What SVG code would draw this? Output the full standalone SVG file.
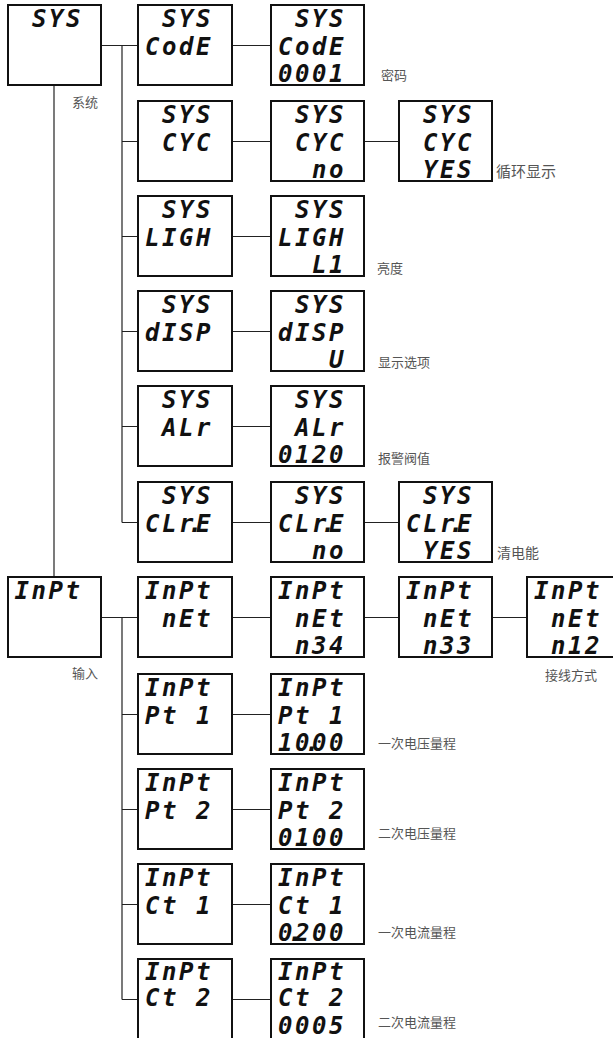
<svg xmlns="http://www.w3.org/2000/svg" width="613" height="1038" viewBox="0 0 613 1038">
<style>
.box{fill:#fff;stroke:#111;stroke-width:2}
.seg{font-family:"DejaVu Sans Mono","Liberation Mono",monospace;font-weight:bold;font-style:italic;font-size:24px;letter-spacing:2.55px;fill:#111;white-space:pre}
.lbl{font-family:"Noto Sans CJK SC","Noto Sans",sans-serif;font-size:13px;fill:#555}
.con{fill:none;stroke:#222;stroke-width:1.2}
</style>
<rect width="613" height="1038" fill="#fff"/>
<g id="connectors" class="con">
<path d="M54 85V577"/>
<path d="M101 45.5H138M122 45.5V522.5M122 141.5H138M122 236.5H138M122 331.5H138M122 426.5H138M122 522.5H138"/>
<path d="M232 45.5H271M232 141.5H271M364 141.5H399M232 236.5H271M232 331.5H271M232 426.5H271M232 522.5H271M364 522.5H399"/>
<path d="M101 617.5H138M122 617.5V999.5M122 714.5H138M122 809.5H138M122 904.5H138M122 999.5H138"/>
<path d="M232 617.5H271M364 617.5H399M492 617.5H527M232 714.5H271M232 809.5H271M232 904.5H271M232 999.5H271"/>
</g>
<g id="sys">
<rect class="box" x="8" y="5" width="93" height="80"/>
<text class="seg" x="32" y="27">SYS</text>
</g>
<g id="sys-code">
<rect class="box" x="138" y="5" width="94" height="80"/>
<text class="seg" x="162" y="27">SYS</text><text class="seg" x="145" y="55">CodE</text>
</g>
<g id="sys-code-val">
<rect class="box" x="271" y="5" width="93" height="80"/>
<text class="seg" x="295" y="27">SYS</text><text class="seg" x="278" y="55">CodE</text><text class="seg" x="278" y="82">0001</text>
</g>
<g id="sys-cyc">
<rect class="box" x="138" y="101" width="94" height="80"/>
<text class="seg" x="162" y="123">SYS</text><text class="seg" x="162" y="151">CYC</text>
</g>
<g id="sys-cyc-no">
<rect class="box" x="271" y="101" width="93" height="80"/>
<text class="seg" x="295" y="123">SYS</text><text class="seg" x="295" y="151">CYC</text><text class="seg" x="312" y="178">no</text>
</g>
<g id="sys-cyc-yes">
<rect class="box" x="399" y="101" width="93" height="80"/>
<text class="seg" x="423" y="123">SYS</text><text class="seg" x="423" y="151">CYC</text><text class="seg" x="423" y="178">YES</text>
</g>
<g id="sys-ligh">
<rect class="box" x="138" y="196" width="94" height="80"/>
<text class="seg" x="162" y="218">SYS</text><text class="seg" x="145" y="246">LIGH</text>
</g>
<g id="sys-ligh-val">
<rect class="box" x="271" y="196" width="93" height="80"/>
<text class="seg" x="295" y="218">SYS</text><text class="seg" x="278" y="246">LIGH</text><text class="seg" x="312" y="273">L1</text>
</g>
<g id="sys-disp">
<rect class="box" x="138" y="291" width="94" height="80"/>
<text class="seg" x="162" y="313">SYS</text><text class="seg" x="145" y="341">dISP</text>
</g>
<g id="sys-disp-val">
<rect class="box" x="271" y="291" width="93" height="80"/>
<text class="seg" x="295" y="313">SYS</text><text class="seg" x="278" y="341">dISP</text><text class="seg" x="329" y="368">U</text>
</g>
<g id="sys-alr">
<rect class="box" x="138" y="386" width="94" height="80"/>
<text class="seg" x="162" y="408">SYS</text><text class="seg" x="162" y="436">ALr</text>
</g>
<g id="sys-alr-val">
<rect class="box" x="271" y="386" width="93" height="80"/>
<text class="seg" x="295" y="408">SYS</text><text class="seg" x="295" y="436">ALr</text><text class="seg" x="278" y="463">0120</text>
</g>
<g id="sys-clre">
<rect class="box" x="138" y="482" width="94" height="80"/>
<text class="seg" x="162" y="504">SYS</text><text class="seg" x="145 162 179 188 196" y="532">CLr.E</text>
</g>
<g id="sys-clre-no">
<rect class="box" x="271" y="482" width="93" height="80"/>
<text class="seg" x="295" y="504">SYS</text><text class="seg" x="278 295 312 321 329" y="532">CLr.E</text><text class="seg" x="312" y="559">no</text>
</g>
<g id="sys-clre-yes">
<rect class="box" x="399" y="482" width="93" height="80"/>
<text class="seg" x="423" y="504">SYS</text><text class="seg" x="406 423 440 449 457" y="532">CLr.E</text><text class="seg" x="423" y="559">YES</text>
</g>
<g id="inpt">
<rect class="box" x="8" y="577" width="93" height="80"/>
<text class="seg" x="14.5" y="599">InPt</text>
</g>
<g id="inpt-net">
<rect class="box" x="138" y="577" width="94" height="80"/>
<text class="seg" x="145" y="599">InPt</text><text class="seg" x="162" y="627">nEt</text>
</g>
<g id="inpt-net-n34">
<rect class="box" x="271" y="577" width="93" height="80"/>
<text class="seg" x="278" y="599">InPt</text><text class="seg" x="295" y="627">nEt</text><text class="seg" x="295" y="654">n34</text>
</g>
<g id="inpt-net-n33">
<rect class="box" x="399" y="577" width="93" height="80"/>
<text class="seg" x="406" y="599">InPt</text><text class="seg" x="423" y="627">nEt</text><text class="seg" x="423" y="654">n33</text>
</g>
<g id="inpt-net-n12">
<rect class="box" x="527" y="577" width="93" height="80"/>
<text class="seg" x="534" y="599">InPt</text><text class="seg" x="551" y="627">nEt</text><text class="seg" x="551" y="654">n12</text>
</g>
<g id="inpt-pt1">
<rect class="box" x="138" y="674" width="94" height="80"/>
<text class="seg" x="145" y="696">InPt</text><text class="seg" x="145 162 196" y="724">Pt1</text>
</g>
<g id="inpt-pt1-val">
<rect class="box" x="271" y="674" width="93" height="80"/>
<text class="seg" x="278" y="696">InPt</text><text class="seg" x="278 295 329" y="724">Pt1</text><text class="seg" x="278 295 305 312 329" y="751">10.00</text>
</g>
<g id="inpt-pt2">
<rect class="box" x="138" y="769" width="94" height="80"/>
<text class="seg" x="145" y="791">InPt</text><text class="seg" x="145 162 196" y="819">Pt2</text>
</g>
<g id="inpt-pt2-val">
<rect class="box" x="271" y="769" width="93" height="80"/>
<text class="seg" x="278" y="791">InPt</text><text class="seg" x="278 295 329" y="819">Pt2</text><text class="seg" x="278" y="846">0100</text>
</g>
<g id="inpt-ct1">
<rect class="box" x="138" y="864" width="94" height="80"/>
<text class="seg" x="145" y="886">InPt</text><text class="seg" x="145 162 196" y="914">Ct1</text>
</g>
<g id="inpt-ct1-val">
<rect class="box" x="271" y="864" width="93" height="80"/>
<text class="seg" x="278" y="886">InPt</text><text class="seg" x="278 295 329" y="914">Ct1</text><text class="seg" x="278 288 295 312 329" y="941">0.200</text>
</g>
<g id="inpt-ct2">
<rect class="box" x="138" y="959" width="94" height="80"/>
<text class="seg" x="145" y="980">InPt</text><text class="seg" x="145 162 196" y="1006">Ct2</text>
</g>
<g id="inpt-ct2-val">
<rect class="box" x="271" y="959" width="93" height="80"/>
<text class="seg" x="278" y="980">InPt</text><text class="seg" x="278 295 329" y="1006">Ct2</text><text class="seg" x="278" y="1034">0005</text>
</g>
<g id="labels" class="lbl">
<text x="72" y="107">系统</text>
<text x="381" y="80">密码</text>
<text x="496" y="177" font-size="15">循环显示</text>
<text x="377" y="273">亮度</text>
<text x="378" y="367">显示选项</text>
<text x="378" y="463">报警阀值</text>
<text x="497" y="558" font-size="14">清电能</text>
<text x="72" y="678">输入</text>
<text x="545" y="680">接线方式</text>
<text x="378" y="748">一次电压量程</text>
<text x="378" y="838">二次电压量程</text>
<text x="378" y="937">一次电流量程</text>
<text x="378" y="1027">二次电流量程</text>
</g>
</svg>
